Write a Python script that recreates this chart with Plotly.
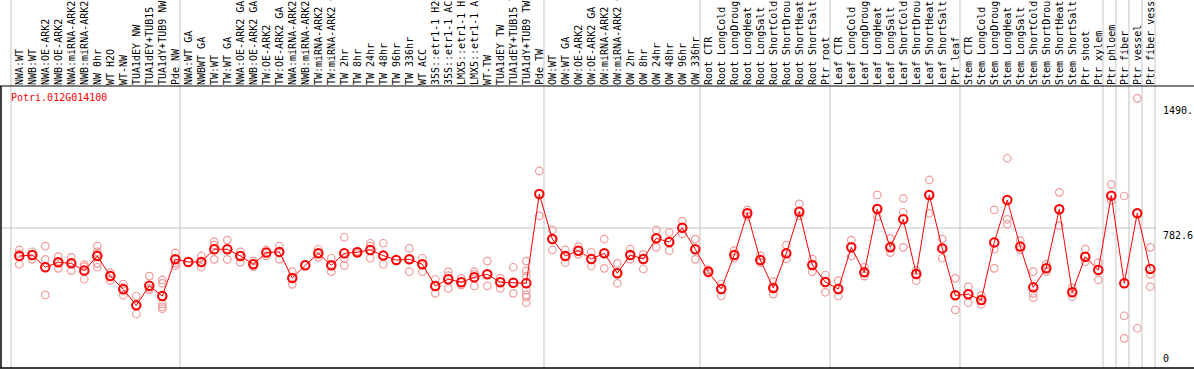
import plotly.graph_objects as go

gene = "Potri.012G014100"

categories = [
    "NWA:WT", "NWB:WT", "NWA:OE-ARK2", "NWB:OE-ARK2", "NWA:miRNA-ARK2", "NWB:miRNA-ARK2",
    "NW 0hr", "WT H2O", "WT-NW", "TUA1dEY NW", "TUA1dEY+TUB15 NW", "TUA1dY+TUB9 NW", "Pde NW",
    "NWA:WT GA", "NWBWT GA", "TW:WT", "TW:WT GA", "NWA:OE-ARK2 GA", "NWB:OE-ARK2 GA",
    "TW:OE-ARK2", "TW:OE-ARK2 GA", "NWA:miRNA-ARK2 GA", "NWB:miRNA-ARK2 GA", "TW:miRNA-ARK2",
    "TW:miRNA-ARK2 GA", "TW 2hr", "TW 8hr", "TW 24hr", "TW 48hr", "TW 96hr", "TW 336hr", "WT ACC",
    "35S::etr1-1 H2O", "35S::etr1-1 ACC", "LMX5::etr1-1 H2O", "LMX5::etr1-1 ACC", "WT-TW",
    "TUA1dEY TW", "TUA1dEY+TUB15 TW", "TUA1dY+TUB9 TW", "Pde TW",
    "OW:WT", "OW:WT GA", "OW:OE-ARK2", "OW:OE-ARK2 GA", "OW:miRNA-ARK2", "OW:miRNA-ARK2 GA",
    "OW 2hr", "OW 8hr", "OW 24hr", "OW 48hr", "OW 96hr", "OW 336hr",
    "Root CTR", "Root LongCold", "Root LongDrought", "Root LongHeat", "Root LongSalt",
    "Root ShortCold", "Root ShortDrought", "Root ShortHeat", "Root ShortSalt", "Ptr root",
    "Leaf CTR", "Leaf LongCold", "Leaf LongDrought", "Leaf LongHeat", "Leaf LongSalt",
    "Leaf ShortCold", "Leaf ShortDrought", "Leaf ShortHeat", "Leaf ShortSalt", "Ptr leaf",
    "Stem CTR", "Stem LongCold", "Stem LongDrought", "Stem LongHeat", "Stem LongSalt",
    "Stem ShortCold", "Stem ShortDrought", "Stem ShortHeat", "Stem ShortSalt",
    "Ptr shoot", "Ptr xylem", "Ptr phloem", "Ptr fiber", "Ptr vessel", "Ptr fiber vessel",
]

means = [
    624, 629, 560, 588, 582, 541, 624, 510, 435, 344, 455, 397, 605,
    590, 590, 662, 662, 624, 577, 643, 647, 499, 571, 639, 571, 639, 645, 658, 626, 601,
    605, 577, 454, 492, 475, 503, 520, 475, 472, 469, 975,
    720, 624, 654, 607, 639, 526, 629, 607, 724, 703, 784, 662,
    535, 437, 629, 866, 601, 442, 639, 875, 573, 476,
    437, 673, 531, 890, 673, 832, 522, 970, 667, 401,
    407, 374, 701, 941, 677, 446, 554, 889, 418, 620, 544,
    966, 469, 866, 550,
]

replicates = [
    [658, 637, 577], [648, 629, 605], [680, 605, 403], [620, 588, 554], [616, 588, 541],
    [575, 563, 492], [680, 648, 635, 582, 560], [529, 510, 484], [465, 445, 401],
    [397, 344, 295], [510, 440, 431], [488, 469, 397, 352, 336, 325], [642, 605, 582, 569],
    [590], [624, 590, 560], [705, 686, 605], [714, 662, 605], [648, 624, 588],
    [595, 577, 563], [658, 643, 624], [680, 647, 605], [535, 497, 463], [571],
    [662, 639, 616], [611, 571, 535], [730, 611, 569], [652, 645, 638], [696, 680, 611],
    [696, 626, 577], [601], [667, 605, 535], [611, 577, 535], [492, 454, 412],
    [535, 512, 440], [497, 475, 459], [535, 520, 454], [595, 520, 454], [497, 475, 440],
    [560, 472, 412], [595, 539, 510, 431, 403, 390, 359], [1106, 975, 851],
    [771, 720, 658], [658, 624, 586], [677, 654, 633], [645, 607, 567], [720, 639, 554],
    [582, 526, 469], [663, 629, 605], [633, 607, 550], [771, 724, 673], [758, 703, 654],
    [822, 784, 749], [720, 662, 605],
    [545, 535, 525], [465, 437, 397], [654, 629, 611], [885, 866, 848], [626, 601, 586],
    [478, 442, 408], [686, 639, 607], [919, 875, 851], [607, 573, 535], [516, 476, 418],
    [484, 437, 397], [714, 673, 624], [560, 531, 510], [970, 890, 847], [724, 673, 643],
    [951, 872, 673], [541, 522, 484], [1055, 970, 866], [720, 667, 611], [497, 401, 318],
    [450, 407, 359], [401, 374, 350], [885, 662, 554], [1178, 832, 804], [711, 677, 658],
    [535, 412, 387], [578, 554, 535], [985, 889, 796], [444, 418, 393], [663, 620, 591],
    [586, 544, 488], [1030, 966, 937], [964, 285, 157], [1518, 866, 214], [673, 520, 450],
]

group_starts = [0, 13, 41, 53, 63, 73, 84, 85, 86, 87, 88]
y_tick_values = [0, 782.6, 1490]
y_tick_text = ["0", "782.6", "1490."]

FONT = "DejaVu Sans Mono"
GRID = "#c4c4c4"

rep_x, rep_y = [], []
for i, reps in enumerate(replicates):
    for v in reps:
        rep_x.append(i)
        rep_y.append(v)

fig = go.Figure()
fig.add_trace(go.Scatter(
    x=rep_x, y=rep_y, mode="markers",
    marker=dict(symbol="circle-open", size=7.5, color="#f29a9a", line=dict(width=1.2)),
    hoverinfo="skip",
))
fig.add_trace(go.Scatter(
    x=list(range(len(means))), y=means, mode="lines+markers",
    line=dict(color="#ff0000", width=1),
    marker=dict(symbol="circle-open", size=8.5, color="#ff0000", line=dict(width=2)),
))

W, H = 1194, 370
ml, mr, mt, mb = 1, 38, 86, 2
plot_h = H - mt - mb
plot_w = W - ml - mr

shapes = []
for g in group_starts:
    shapes.append(dict(type="line", xref="x", yref="paper", x0=g - 0.64, x1=g - 0.64,
                       y0=0, y1=(H - mb) / plot_h, line=dict(color=GRID, width=1), layer="below"))
shapes.append(dict(type="line", xref="paper", yref="y", x0=0, x1=1, y0=782.6, y1=782.6,
                   line=dict(color=GRID, width=1), layer="below"))
xr = (W - ml) / plot_w
shapes.append(dict(type="line", xref="paper", yref="paper", x0=-ml / plot_w, x1=xr, y0=1, y1=1,
                   line=dict(color="black", width=1)))
shapes.append(dict(type="line", xref="paper", yref="paper", x0=-ml / plot_w, x1=xr, y0=0, y1=0,
                   line=dict(color="black", width=1.5)))
shapes.append(dict(type="line", xref="paper", yref="paper", x0=0, x1=0, y0=0, y1=1,
                   line=dict(color="black", width=1.5)))

annotations = [dict(text=gene, xref="paper", yref="paper", x=8.3 / plot_w, y=1, yshift=-4,
                    xanchor="left", yanchor="top", showarrow=False,
                    font=dict(family=FONT, size=10, color="#ff0000"))]
for v, t in zip(y_tick_values, y_tick_text):
    annotations.append(dict(text=t, xref="paper", yref="y", x=1, xshift=5, y=v,
                            xanchor="left", yanchor="bottom" if v == 0 else "top",
                            showarrow=False, font=dict(family=FONT, size=10, color="black")))

fig.update_layout(
    template="none",
    width=W, height=H,
    margin=dict(l=ml, r=mr, t=mt, b=mb, pad=0),
    paper_bgcolor="white", plot_bgcolor="white",
    showlegend=False,
    font=dict(family=FONT, size=10, color="black"),
    xaxis=dict(range=[-1.408, 87.44], tickmode="array", tickvals=list(range(len(categories))),
               ticktext=categories, side="top", tickangle=-90, ticks="",
               tickfont=dict(family=FONT, size=10, color="black"),
               showgrid=False, zeroline=False, showline=False, automargin=False),
    yaxis=dict(range=[-11.34, 1587.8], showticklabels=False, showgrid=False, zeroline=False,
               showline=False, ticks="", automargin=False),
    shapes=shapes,
    annotations=annotations,
)

fig.write_html(
    "out.html",
    config={"displayModeBar": False},
    post_script="document.body.style.margin='0';document.body.style.padding='0';"
                "document.documentElement.style.overflow='hidden';",
)
